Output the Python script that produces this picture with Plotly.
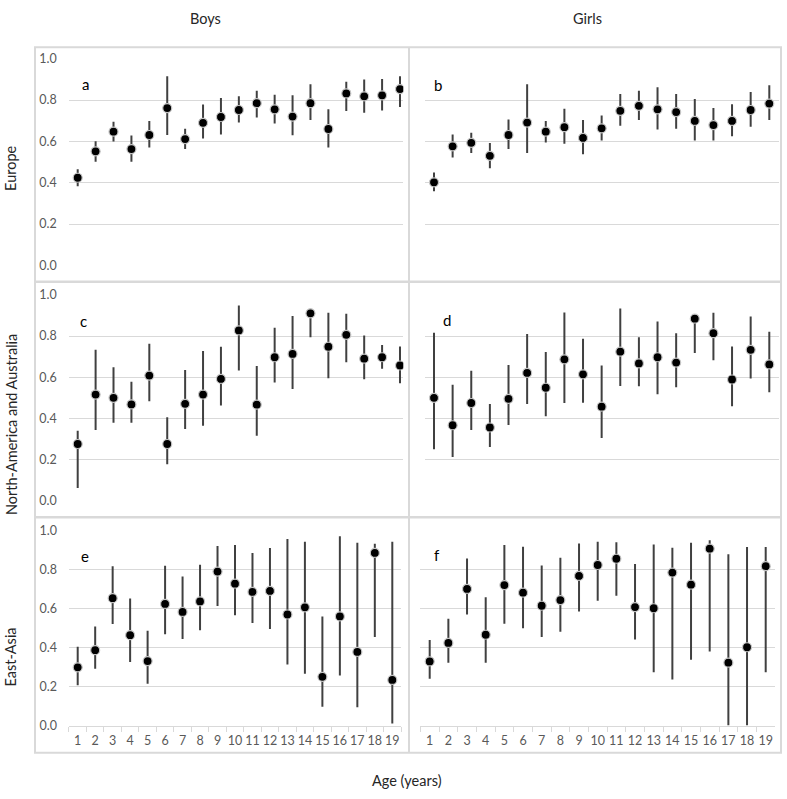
import plotly.graph_objects as go

W, H = 787, 799

ages = [str(i) for i in range(1, 20)]
y_ticks = [0.0, 0.2, 0.4, 0.6, 0.8, 1.0]

# Europe
boys_eu = [0.424, 0.552, 0.647, 0.563, 0.631, 0.761, 0.611, 0.690, 0.718, 0.752, 0.785, 0.755, 0.720, 0.785, 0.660, 0.832, 0.818, 0.823, 0.853]
boys_eu_hi = [0.465, 0.601, 0.695, 0.628, 0.699, 0.915, 0.661, 0.778, 0.810, 0.818, 0.845, 0.826, 0.823, 0.877, 0.756, 0.889, 0.899, 0.902, 0.915]
boys_eu_lo = [0.383, 0.502, 0.600, 0.502, 0.570, 0.631, 0.563, 0.614, 0.633, 0.691, 0.715, 0.687, 0.630, 0.704, 0.570, 0.747, 0.739, 0.750, 0.766]

girls_eu = [0.402, 0.576, 0.593, 0.530, 0.631, 0.691, 0.647, 0.669, 0.617, 0.663, 0.748, 0.772, 0.755, 0.742, 0.699, 0.679, 0.699, 0.752, 0.783]
girls_eu_hi = [0.449, 0.633, 0.642, 0.592, 0.706, 0.877, 0.699, 0.758, 0.704, 0.725, 0.829, 0.845, 0.862, 0.829, 0.805, 0.761, 0.780, 0.839, 0.872]
girls_eu_lo = [0.359, 0.522, 0.544, 0.470, 0.563, 0.544, 0.595, 0.589, 0.538, 0.604, 0.676, 0.703, 0.658, 0.661, 0.604, 0.604, 0.625, 0.671, 0.703]

# North-America and Australia
boys_na = [0.276, 0.516, 0.500, 0.468, 0.608, 0.276, 0.471, 0.516, 0.592, 0.827, 0.467, 0.697, 0.713, 0.910, 0.748, 0.806, 0.690, 0.697, 0.657]
boys_na_hi = [0.340, 0.733, 0.649, 0.578, 0.762, 0.406, 0.635, 0.727, 0.748, 0.948, 0.654, 0.840, 0.897, 0.925, 0.913, 0.908, 0.802, 0.757, 0.749]
boys_na_lo = [0.063, 0.344, 0.379, 0.379, 0.483, 0.178, 0.349, 0.365, 0.463, 0.633, 0.316, 0.575, 0.543, 0.794, 0.595, 0.673, 0.590, 0.641, 0.571]

girls_na = [0.500, 0.367, 0.475, 0.356, 0.495, 0.621, 0.549, 0.687, 0.614, 0.457, 0.724, 0.667, 0.697, 0.671, 0.884, 0.814, 0.589, 0.733, 0.662]
girls_na_hi = [0.816, 0.563, 0.632, 0.470, 0.659, 0.810, 0.722, 0.914, 0.787, 0.657, 0.933, 0.794, 0.871, 0.813, 0.905, 0.913, 0.749, 0.895, 0.821]
girls_na_lo = [0.251, 0.213, 0.344, 0.262, 0.368, 0.470, 0.411, 0.475, 0.476, 0.305, 0.557, 0.556, 0.517, 0.551, 0.717, 0.683, 0.459, 0.594, 0.527]

# East-Asia
boys_ea = [0.299, 0.387, 0.654, 0.464, 0.331, 0.624, 0.583, 0.637, 0.790, 0.728, 0.686, 0.691, 0.570, 0.607, 0.250, 0.560, 0.378, 0.886, 0.234]
boys_ea_hi = [0.405, 0.508, 0.818, 0.652, 0.487, 0.820, 0.765, 0.825, 0.921, 0.926, 0.886, 0.911, 0.958, 0.943, 0.560, 0.971, 0.938, 0.933, 0.943]
boys_ea_lo = [0.207, 0.292, 0.521, 0.326, 0.215, 0.469, 0.444, 0.489, 0.613, 0.566, 0.526, 0.496, 0.313, 0.266, 0.097, 0.257, 0.094, 0.454, 0.010]

girls_ea = [0.329, 0.424, 0.701, 0.466, 0.721, 0.682, 0.615, 0.644, 0.768, 0.824, 0.856, 0.608, 0.602, 0.785, 0.723, 0.908, 0.323, 0.402, 0.818]
girls_ea_hi = [0.439, 0.548, 0.857, 0.659, 0.926, 0.918, 0.822, 0.861, 0.934, 0.943, 0.941, 0.829, 0.929, 0.913, 0.938, 0.951, 0.879, 0.916, 0.916]
girls_ea_lo = [0.240, 0.323, 0.570, 0.323, 0.523, 0.499, 0.454, 0.481, 0.585, 0.640, 0.666, 0.442, 0.274, 0.237, 0.338, 0.380, 0.000, 0.000, 0.274]

panel_letters = ["a", "b", "c", "d", "e", "f"]
col_titles = ["Boys", "Girls"]
row_titles = ["Europe", "North-America and Australia", "East-Asia"]
x_title = "Age (years)"

FONT = "Lato, 'Open Sans', sans-serif"
GRID = "#d9d9d9"
TICKC = "#595959"


def px(x):
    return x / W


def py(y):
    return 1 - y / H


# panel geometry (pixels): first pt x, last pt x, plot left, plot right, y(1.0), y(0.0), label x, label y
panels = [
    dict(m=boys_eu, hi=boys_eu_hi, lo=boys_eu_lo, f=77.7, l=400.0, L=68.7, R=403.3, y1=51.7, y0=262.3, lx=85, ly=77, yl=True, xl=False),
    dict(m=girls_eu, hi=girls_eu_hi, lo=girls_eu_lo, f=434.0, l=769.3, L=424.7, R=778.6, y1=51.7, y0=262.3, lx=438, ly=78, yl=False, xl=False),
    dict(m=boys_na, hi=boys_na_hi, lo=boys_na_lo, f=77.7, l=400.0, L=68.7, R=403.3, y1=292.3, y0=502.3, lx=83, ly=319, yl=True, xl=False),
    dict(m=girls_na, hi=girls_na_hi, lo=girls_na_lo, f=434.0, l=769.3, L=424.7, R=778.6, y1=292.3, y0=502.3, lx=447, ly=318, yl=False, xl=False),
    dict(m=boys_ea, hi=boys_ea_hi, lo=boys_ea_lo, f=77.7, l=392.3, L=68.9, R=401.1, y1=532.7, y0=731.3, lx=85, ly=558, yl=True, xl=True),
    dict(m=girls_ea, hi=girls_ea_hi, lo=girls_ea_lo, f=429.7, l=765.7, L=420.3, R=775.0, y1=532.7, y0=731.3, lx=437, ly=557, yl=False, xl=True),
]

fig = go.Figure()
layout = dict(
    width=W, height=H, margin=dict(l=0, r=0, t=0, b=0),
    paper_bgcolor="white", plot_bgcolor="white", showlegend=False,
    font=dict(family=FONT, color="#262626"),
)
annotations = []

for i, p in enumerate(panels):
    n = i + 1
    sfx = "" if n == 1 else str(n)
    up = [h - m for h, m in zip(p["hi"], p["m"])]
    dn = [m - lo for m, lo in zip(p["m"], p["lo"])]
    fig.add_trace(go.Scatter(
        x=ages, y=p["m"], mode="markers",
        xaxis="x" + sfx, yaxis="y" + sfx,
        marker=dict(color="black", size=9, line=dict(color="#c4c4c4", width=1.2)),
        error_y=dict(type="data", symmetric=False, array=up, arrayminus=dn,
                     color="#404040", thickness=2, width=0),
        hoverinfo="skip",
    ))
    sp = (p["l"] - p["f"]) / 18.0
    r0 = -(p["f"] - p["L"]) / sp
    r1 = 18 + (p["R"] - p["l"]) / sp
    layout["xaxis" + sfx] = dict(
        type="category", domain=[px(p["L"]), px(p["R"])], range=[r0, r1],
        anchor="y" + sfx, showgrid=False, zeroline=False,
        showline=p["xl"], linecolor=GRID, linewidth=1,
        ticks="outside" if p["xl"] else "", tickson="boundaries", ticklen=5,
        tickcolor=GRID, tickwidth=1, tickangle=0,
        showticklabels=p["xl"], ticklabelstandoff=3,
        tickfont=dict(family=FONT, size=12.5, color=TICKC),
    )
    layout["yaxis" + sfx] = dict(
        domain=[py(p["y0"]), py(p["y1"])], range=[0, 1], anchor="x" + sfx,
        tickvals=y_ticks, tickformat=".1f",
        showgrid=True, gridcolor=GRID, gridwidth=1, zeroline=False, showline=False,
        ticks="", showticklabels=p["yl"], ticklabelstandoff=11,
        tickfont=dict(family=FONT, size=12.5, color=TICKC),
    )
    annotations.append(dict(x=px(p["lx"]), y=py(p["ly"]), xref="paper", yref="paper",
                            text=panel_letters[i], showarrow=False,
                            font=dict(family=FONT, size=15, color="black"),
                            xanchor="center", yanchor="middle"))

for t, x in zip(col_titles, [205, 587]):
    annotations.append(dict(x=px(x), y=py(11), xref="paper", yref="paper", text=t,
                            showarrow=False, font=dict(family=FONT, size=14.5, color="#262626"),
                            xanchor="center", yanchor="middle"))
for t, y in zip(row_titles, [164, 425, 662]):
    annotations.append(dict(x=px(11), y=py(y), xref="paper", yref="paper", text=t,
                            showarrow=False, textangle=-90,
                            font=dict(family=FONT, size=14.5, color="#262626"),
                            xanchor="center", yanchor="middle"))
annotations.append(dict(x=px(407), y=py(787), xref="paper", yref="paper", text=x_title,
                        showarrow=False, font=dict(family=FONT, size=14.5, color="#262626"),
                        xanchor="center", yanchor="middle"))

shapes = [
    dict(type="rect", xref="paper", yref="paper", x0=px(35), x1=px(781), y0=py(759), y1=py(40),
         line=dict(color=GRID, width=2)),
    dict(type="line", xref="paper", yref="paper", x0=px(409), x1=px(409), y0=py(759), y1=py(40),
         line=dict(color=GRID, width=2)),
    dict(type="line", xref="paper", yref="paper", x0=px(35), x1=px(781), y0=py(279), y1=py(279),
         line=dict(color=GRID, width=2.5)),
    dict(type="line", xref="paper", yref="paper", x0=px(35), x1=px(781), y0=py(519), y1=py(519),
         line=dict(color=GRID, width=2.5)),
]

layout["annotations"] = annotations
layout["shapes"] = shapes
fig.update_layout(**layout)
fig.write_html(
    "out.html",
    config={"displayModeBar": False, "staticPlot": True},
    post_script=(
        "document.documentElement.style.cssText='margin:0;padding:0;overflow:hidden;';"
        "document.body.style.cssText='margin:0;padding:0;overflow:hidden;';"
        "var g=document.getElementById('{plot_id}');"
        "g.style.position='fixed';g.style.left='0px';g.style.top='0px';"
    ),
)
